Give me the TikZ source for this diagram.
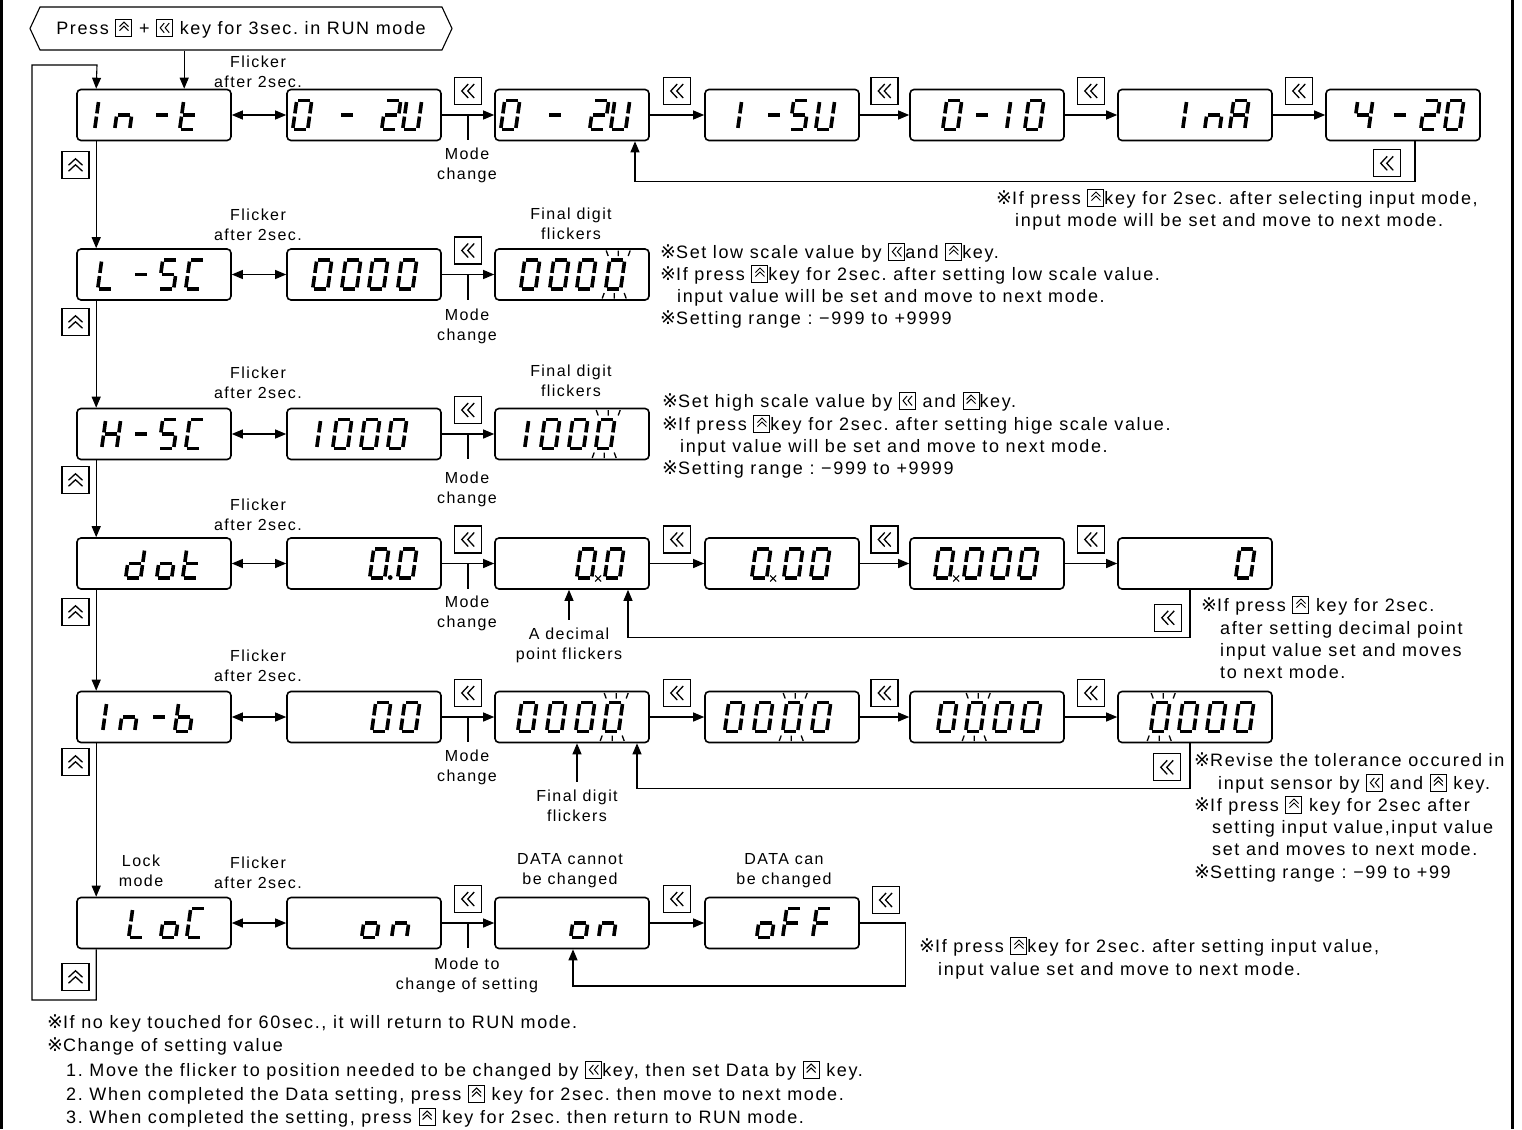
\documentclass[tikz,border=0pt]{standalone}
\usepackage{fontspec}
\setmainfont{Liberation Sans}[LetterSpace=9]
\newfontfamily\symfont{DejaVu Sans}
\usetikzlibrary{arrows.meta,positioning,calc,shapes.symbols}
\frenchspacing

% segments of one display digit, as pairs of corner names
\newcommand\deflcd[2]{\expandafter\def\csname lcd-#1\endcsname{#2}}
\deflcd{0}{TL/TR,TR/MR,MR/BR,BL/BR,ML/BL,TL/ML}
\deflcd{1}{TR/MR,MR/BR}
\deflcd{2}{TL/TR,TR/MR,ML/MR,ML/BL,BL/BR}
\deflcd{4}{TL/ML,ML/MR,TR/MR,MR/BR}
\deflcd{5}{TL/TR,TL/ML,ML/MR,MR/BR,BL/BR}
\deflcd{-}{ML/MR}
\deflcd{I}{TL/ML,ML/BL}
\deflcd{n}{ML/MR,ML/BL,MR/BR}
\deflcd{t}{TL/ML,ML/BL,ML/MR,BL/BR}
\deflcd{U}{TR/MR,MR/BR,BL/BR,ML/BL,TL/ML}
\deflcd{A}{TL/TR,TR/MR,MR/BR,ML/BL,TL/ML,ML/MR}
\deflcd{L}{TL/ML,ML/BL,BL/BR}
\deflcd{C}{TL/TR,TL/ML,ML/BL,BL/BR}
\deflcd{H}{TR/MR,MR/BR,ML/BL,TL/ML,ML/MR}
\deflcd{d}{TR/MR,MR/BR,BL/BR,ML/BL,ML/MR}
\deflcd{o}{MR/BR,BL/BR,ML/BL,ML/MR}
\deflcd{b}{MR/BR,BL/BR,ML/BL,TL/ML,ML/MR}
\deflcd{F}{TL/TR,ML/BL,TL/ML,ML/MR}

% key symbols
\newsavebox\upchev
\sbox\upchev{\tikz[x=1pt,y=1pt,line width=1.3pt]{\draw (0,0)--(7,6.5)--(14,0) (0,6)--(7,12.5)--(14,6);}}
\newsavebox\leftchev
\sbox\leftchev{\tikz[x=1pt,y=1pt,line width=1.3pt]{\draw (6.5,0)--(0,7)--(6.5,14) (12.5,0)--(6,7)--(12.5,14);}}
\newsavebox\upkeyin
\sbox\upkeyin{\tikz[x=1pt,y=1pt,baseline=0pt,line width=1pt]{\draw (0,-2) rectangle (16,14.5); \draw (3.5,3.5)--(8,8)--(12.5,3.5) (3.5,7.5)--(8,12)--(12.5,7.5);}}
\newsavebox\leftkeyin
\sbox\leftkeyin{\tikz[x=1pt,y=1pt,baseline=0pt,line width=1pt]{\draw (0,-2) rectangle (16,14.5); \draw (7.5,1.5)--(3.5,6.25)--(7.5,11) (12.5,1.5)--(8.5,6.25)--(12.5,11);}}
\newcommand\ukey{\usebox\upkeyin}
\newcommand\lkey{\usebox\leftkeyin}
\newcommand\rmk{{\symfont\fontsize{19}{20}\selectfont ※}}

\tikzset{
    % display window
    lcdbox/.style={draw,line width=1.6pt,rounded corners=4pt,minimum width=154pt,minimum height=51pt,inner sep=0pt},
    % lit segment
    lcdseg/.style={line width=3.6pt,shorten <=1.6pt,shorten >=1.6pt},
    % key in the chart
    keybox/.style={draw,line width=1.2pt,fill=white,minimum width=27pt,minimum height=27pt,inner sep=0pt},
    % connectors
    flow/.style={line width=1.1pt,->},
    both/.style={line width=1.1pt,<->},
    wire/.style={line width=1.1pt},
    % texts
    lbl/.style={align=center,inner sep=0pt,font=\fontsize{16}{20}\selectfont},
    note/.style={anchor=base west,inner sep=0pt,font=\fontsize{18}{22}\selectfont}
}

% one character of a display
\newcommand\lcdch[2]{%
    \begin{scope}[shift={#1},xslant=0.14]
        \coordinate (TL) at (-7.5,-14.5); \coordinate (TR) at (7.5,-14.5);
        \coordinate (ML) at (-7.5,0);     \coordinate (MR) at (7.5,0);
        \coordinate (BL) at (-7.5,14.5);  \coordinate (BR) at (7.5,14.5);
        \edef\seglist{\csname lcd-#2\endcsname}%
        \foreach \p/\q in \seglist {\draw[lcdseg] (\p) -- (\q);}
    \end{scope}}
% a whole display: offset from the left edge / character
\newcommand\lcd[2]{\foreach \dx/\ch in {#2} {\lcdch{($(#1.west)+(\dx,0)$)}{\ch}}}
% flickering digit, decimal point, flickering point
\newcommand\flick[2]{%
    \begin{scope}[shift={($(#1.west)+(#2,0)$)}]
        \draw[line width=1.3pt] (-9,-24)--(-7,-18.5) (3,-24)--(3,-18.5) (15,-24)--(13,-18.5)
            (-13,24)--(-11,18.5) (-1,24)--(-1,18.5) (11,24)--(9,18.5);
    \end{scope}}
\newcommand\lcddp[2]{\fill ($(#1.west)+(#2,0)+(11,14)$) circle (2.4);}
\newcommand\lcdx[2]{\draw[line width=1.1pt] ($(#1.west)+(#2,0)+(9,12)$) -- ++(6,6) ++(0,-6) -- ++(-6,6);}

\begin{document}
\begin{tikzpicture}[x=1pt,y=-1pt,>={Triangle[length=11pt,width=9pt]}]
    \useasboundingbox (0,0) rectangle (1522,1129);
    % frame
    \draw[line width=2.5pt] (1.5,0) -- (1.5,1129);
    \draw[line width=3pt] (1512,0) -- (1512,1129);

    % start
    \node[signal,signal to=west and east,signal pointer angle=130,draw,line width=1.1pt,
        minimum width=422pt,minimum height=43pt,inner sep=0pt,font=\fontsize{18}{22}\selectfont]
        (press) at (241,28.5) {Press \ukey{} + \lkey{} key for 3sec. in RUN mode};

    % display windows
    \foreach \r/\y/\n in {1/115/7,2/274.5/3,3/434/3,4/563.5/6,5/717/6,6/923/4}
        \foreach \c in {1,...,\n} {
            \pgfmathsetmacro\bx{{154,364,572,782,987,1195,1403}[\c-1]}
            \node[lcdbox] (b\r\c) at (\bx,\y) {};
        }

    % display contents
    \lcd{b11}{28/I,48/n,86/-,113/t}
    \lcd{b12}{16/0,61/-,105/2,126/U}
    \lcd{b13}{16/0,61/-,105/2,126/U}
    \lcd{b14}{28/1,70/-,95/5,121/U}
    \lcd{b15}{43/0,73/-,92/1,125/0}
    \lcd{b16}{75/I,97/n,122/A}
    \lcd{b17}{38/4,75/-,105/2,129/0}
    \lcd{b21}{31/L,65/-,92/5,119/C}
    \lcd{b22}{36/0,65/0,92/0,121/0}
    \lcd{b23}{36/0,65/0,92/0,121/0}
    \flick{b23}{121}
    \lcd{b31}{35/H,65/-,92/5,119/C}
    \lcd{b32}{25/1,56/0,84/0,111/0}
    \lcd{b33}{25/1,56/0,84/0,111/0}
    \flick{b33}{111}
    \lcd{b41}{59/d,90/o,116/t}
    \lcd{b42}{93/0,121/0}
    \lcddp{b42}{93}
    \lcd{b43}{92/0,120/0}
    \lcdx{b43}{92}
    \lcd{b44}{57/0,89/0,116/0}
    \lcdx{b44}{57}
    \lcd{b45}{35/0,64/0,92/0,119/0}
    \lcdx{b45}{35}
    \lcd{b46}{128/0}
    \lcd{b51}{36/I,53/n,83/-,108/b}
    \lcd{b52}{95/0,124/0}
    \lcd{b53}{33/0,62/0,91/0,119/0}
    \flick{b53}{119}
    \lcd{b54}{30/0,59/0,88/0,117/0}
    \flick{b54}{88}
    \lcd{b55}{38/0,66/0,94/0,122/0}
    \flick{b55}{66}
    \lcd{b56}{43/0,71/0,99/0,127/0}
    \flick{b56}{43}
    \lcd{b61}{62/L,94/o,120/C}
    \lcd{b62}{85/o,115/n}
    \lcd{b63}{86/o,114/n}
    \lcd{b64}{62/o,88/F,118/F}

    % main column
    \coordinate (in1) at ([xshift=108pt]b11.north west);
    \draw[flow] (in1 |- press.south) -- (in1);
    \foreach \a/\b in {1/2,2/3,3/4,4/5,5/6}
        \draw[flow] ([xshift=20pt]b\a1.south west) -- ([xshift=20pt]b\b1.north west);
    \coordinate (lp1) at (32,1000);
    \coordinate (lp2) at (97,65);
    \draw[flow] ([xshift=20pt]b61.south west) |- (lp1) |- (lp2) -- ([xshift=20pt]b11.north west);
    \foreach \r/\y in {1/165,2/322,3/480,4/612,5/762,6/977}
        \node[keybox] (ku\r) at (75.5,\y) {\usebox\upchev};

    % flicker <-> first value, mode change
    \foreach \r/\y in {1/72,2/225,3/382.5,4/515,5/666}
        \node[lbl] (fl\r) at (258,\y) {Flicker\\after 2sec.};
    \node[lbl] (fl6) at (258,872.5) {Flicker\\after 2sec.};
    \foreach \r/\y in {1/165,2/326,3/489,4/613.5,5/767.5}
        \node[lbl] (mc\r) at (467,\y) {Mode\\change};
    \node[lbl] (mc6) at (467,975) {Mode to\\change of setting};
    \foreach \r in {1,...,6} {
        \draw[both] (b\r1) -- (b\r2);
        \draw[flow] (b\r2) -- (b\r3);
        \draw[wire] ($(b\r2.east)!0.5!(b\r3.west)$) -- ++(0,25);
        \node[keybox] (k\r2) at ($(b\r2.east)!0.5!(b\r3.west)+(0,-24)$) {\usebox\leftchev};
    }

    % input mode row
    \foreach \a/\b in {3/4,4/5,5/6,6/7} {
        \draw[flow] (b1\a) -- (b1\b);
        \node[keybox] (k1\a) at ($(b1\a.east)!0.5!(b1\b.west)+(0,-24)$) {\usebox\leftchev};
    }
    \draw[flow] ([xshift=12pt]b17.south) -- ++(0,40) -| ([xshift=63pt]b13.south);
    \node[keybox] (kr1) at ($(b17.south)+(-16,22)$) {\usebox\leftchev};
    \node[note] (t1a) at (996,204) {\rmk If press \ukey{}key for 2sec. after selecting input mode,};
    \node[note] (t1b) at (1015,226) {input mode will be set and move to next mode.};

    % low scale
    \node[lbl] (fd2) at (571,224) {Final digit\\flickers};
    \node[note] (t2a) at (660,258) {\rmk Set low scale value by \lkey{}and \ukey{}key.};
    \node[note] (t2b) at (660,280) {\rmk If press \ukey{}key for 2sec. after setting low scale value.};
    \node[note] (t2c) at (677,302) {input value will be set and move to next mode.};
    \node[note] (t2d) at (660,324) {\rmk Setting range : −999 to +9999};

    % high scale
    \node[lbl] (fd3) at (571,381) {Final digit\\flickers};
    \node[note] (t3a) at (662,407) {\rmk Set high scale value by \lkey{} and \ukey{}key.};
    \node[note] (t3b) at (662,430) {\rmk If press \ukey{}key for 2sec. after setting hige scale value.};
    \node[note] (t3c) at (680,452) {input value will be set and move to next mode.};
    \node[note] (t3d) at (662,474) {\rmk Setting range : −999 to +9999};

    % decimal point
    \foreach \a/\b in {3/4,4/5,5/6} {
        \draw[flow] (b4\a) -- (b4\b);
        \node[keybox] (k4\a) at ($(b4\a.east)!0.5!(b4\b.west)+(0,-24)$) {\usebox\leftchev};
    }
    \draw[flow] ([xshift=-5pt]b46.south) -- ++(0,48) -| ([xshift=56pt]b43.south);
    \node[keybox] (kr4) at ($(b46.south)+(-27,28)$) {\usebox\leftchev};
    \node[lbl] (dp4) at (569,645.5) {A decimal\\point flickers};
    \draw[flow] ($(dp4.north)+(0,-8)$) -- (dp4.north |- b43.south);
    \node[note] (t4a) at (1201,611) {\rmk If press \ukey{} key for 2sec.};
    \node[note] (t4b) at (1220,634) {after setting decimal point};
    \node[note] (t4c) at (1220,656) {input value set and moves};
    \node[note] (t4d) at (1220,678) {to next mode.};

    % input bias
    \foreach \a/\b in {3/4,4/5,5/6} {
        \draw[flow] (b5\a) -- (b5\b);
        \node[keybox] (k5\a) at ($(b5\a.east)!0.5!(b5\b.west)+(0,-24)$) {\usebox\leftchev};
    }
    \draw[flow] ([xshift=-5pt]b56.south) -- ++(0,45) -| ([xshift=65pt]b53.south);
    \node[keybox] (kr5) at ($(b56.south)+(-28,24)$) {\usebox\leftchev};
    \node[lbl] (fd5) at (577,806) {Final digit\\flickers};
    \draw[flow] ($(fd5.north)+(0,-8)$) -- (fd5.north |- b53.south);
    \node[note] (t5a) at (1194,766) {\rmk Revise the tolerance occured in};
    \node[note] (t5b) at (1218,789) {input sensor by \lkey{} and \ukey{} key.};
    \node[note] (t5c) at (1194,811) {\rmk If press \ukey{} key for 2sec after};
    \node[note] (t5d) at (1212,833) {setting input value,input value};
    \node[note] (t5e) at (1212,855) {set and moves to next mode.};
    \node[note] (t5f) at (1194,878) {\rmk Setting range : −99 to +99};

    % lock
    \node[lbl] (lk6) at (141,870.5) {Lock\\mode};
    \node[lbl] (dc6) at (570,871) {DATA cannot\\be changed};
    \node[lbl] (dn6) at (784,871) {DATA can\\be changed};
    \draw[flow] (b63) -- (b64);
    \node[keybox] (k63) at ($(b63.east)!0.5!(b64.west)+(0,-24)$) {\usebox\leftchev};
    \draw[flow] (b64.east) -| ($(b64.east)+(46,63)$) -| ([xshift=1pt]b63.south);
    \node[keybox] (kr6) at ($(b64.east)+(26,-23)$) {\usebox\leftchev};
    \node[note] (t6a) at (919,952) {\rmk If press \ukey{}key for 2sec. after setting input value,};
    \node[note] (t6b) at (938,975) {input value set and move to next mode.};

    % general notes
    \node[note] (t7a) at (47,1028) {\rmk If no key touched for 60sec., it will return to RUN mode.};
    \node[note] (t7b) at (47,1051) {\rmk Change of setting value};
    \node[note] (t7c) at (66,1076) {1. Move the flicker to position needed to be changed by \lkey{}key, then set Data by \ukey{} key.};
    \node[note] (t7d) at (66,1100) {2. When completed the Data setting, press \ukey{} key for 2sec. then move to next mode.};
    \node[note] (t7e) at (66,1123) {3. When completed the setting, press \ukey{} key for 2sec. then return to RUN mode.};
\end{tikzpicture}
\end{document}
